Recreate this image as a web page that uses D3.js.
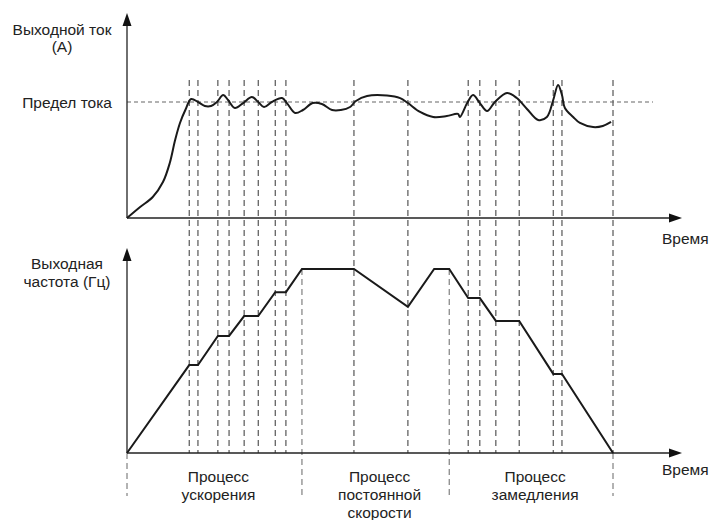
<!DOCTYPE html>
<html>
<head>
<meta charset="utf-8">
<script src="https://cdn.jsdelivr.net/npm/d3@7"></script>
<style>
body { margin: 0; background: #fff; }
text { font-family: "Liberation Sans", Arial, sans-serif; font-size: 15.5px; fill: #222; }
</style>
</head>
<body>
<div id="chart"></div>
<script>
// time in arbitrary units (0 = start, 100 = end of deceleration)
var gridTimes = [12.8, 14.6, 18.7, 21.0, 24.1, 27.0, 30.5, 32.7, 46.7, 57.8, 70.2, 72.6, 75.9, 80.7, 87.7, 89.5, 100];
var phaseBounds = [0, 36.0, 66.3, 100];
var phaseLabels = [["Процесс", "ускорения"], ["Процесс", "постоянной", "скорости"], ["Процесс", "замедления"]];

// output frequency, Hz
var freqTimes  = [0, 12.8, 14.6, 18.7, 21.0, 24.1, 27.0, 30.5, 32.7, 36.0, 46.7, 57.8, 63.2, 66.3, 70.2, 72.6, 75.9, 80.7, 87.7, 89.5, 100];
var freqValues = [0, 23.9, 23.9, 31.8, 31.8, 37.2, 37.2, 43.7, 43.7, 50, 50, 39.7, 50, 50, 42.1, 42.1, 35.9, 35.9, 21.5, 21.5, 0];

// output current, % of the current limit
var currentLimit = 100;
var currentTimes  = [0, 2.7, 5.3, 7.4, 8.8, 9.9, 10.9, 12.0, 13.2, 14.6, 16.0, 17.3, 18.5, 19.8, 20.8, 22.2, 23.9, 25.7, 27.0, 28.2, 29.8, 31.9, 32.9, 34.6, 36.2, 38.2, 40.1, 42.2, 44.0, 45.9, 47.1, 49.4, 53.5, 56.2, 57.8, 60.3, 63.0, 65.8, 68.1, 68.5, 70.0, 71.2, 72.6, 74.1, 75.7, 78.2, 80.2, 82.3, 84.6, 86.4, 87.7, 88.7, 89.5, 90.1, 91.8, 93.2, 95.9, 97.9, 99.6];
var currentValues = [0, 9.5, 18.1, 31.0, 47.4, 67.2, 81.9, 93.1, 102.6, 100, 96.6, 96.6, 100, 106, 101.7, 94.8, 99.1, 104.3, 100, 95.7, 100, 103.4, 99.1, 90.5, 93.1, 99.1, 98.3, 93.1, 93.1, 95.7, 100.9, 105.2, 105.6, 103.4, 99.1, 91.4, 87.1, 87.9, 89.7, 87.1, 99.1, 106, 99.1, 92.2, 100, 107.8, 103.4, 94.0, 84.5, 87.1, 101.7, 114.7, 106, 94.8, 87.1, 81.9, 78.4, 79.3, 82.8];

var W = 711, H = 520;
var x0 = 127, xEnd = 682;
var topAxisY = 218, botAxisY = 453;
var gridTop = 80, phaseBottom = 496;

var x = d3.scaleLinear().domain([0, 100]).range([x0, 613]);
var yI = d3.scaleLinear().domain([0, 100]).range([topAxisY, 102]);
var yF = d3.scaleLinear().domain([0, 50]).range([botAxisY, 269]);

var svg = d3.select("#chart").append("svg")
    .attr("width", W)
    .attr("height", H);

// dashed verticals through both panels
svg.selectAll(".grid")
    .data(gridTimes)
    .enter().append("line")
    .attr("class", "grid")
    .attr("x1", function (d) { return x(d); })
    .attr("x2", function (d) { return x(d); })
    .attr("y1", gridTop)
    .attr("y2", botAxisY)
    .style("stroke", "#333")
    .style("stroke-width", 1)
    .style("stroke-dasharray", "6,4");

// phase boundaries
function freqAt(t) {
    var i = freqTimes.indexOf(t);
    return i >= 0 ? freqValues[i] : 0;
}
svg.selectAll(".phase")
    .data(phaseBounds)
    .enter().append("line")
    .attr("class", "phase")
    .attr("x1", function (d) { return x(d); })
    .attr("x2", function (d) { return x(d); })
    .attr("y1", function (d) { return yF(freqAt(d)); })
    .attr("y2", phaseBottom)
    .style("stroke", "#666")
    .style("stroke-width", 1)
    .style("stroke-dasharray", "6,4");

// current limit
svg.append("line")
    .attr("x1", x0)
    .attr("x2", 653)
    .attr("y1", yI(currentLimit))
    .attr("y2", yI(currentLimit))
    .style("stroke", "#666")
    .style("stroke-width", 1.2)
    .style("stroke-dasharray", "4,3");

// axes
function axis(yAxisTop, yBase) {
    svg.append("line")
        .attr("x1", x0).attr("x2", x0)
        .attr("y1", yBase).attr("y2", yAxisTop + 10)
        .style("stroke", "#222").style("stroke-width", 1.3);
    svg.append("line")
        .attr("x1", x0).attr("x2", xEnd - 10)
        .attr("y1", yBase).attr("y2", yBase)
        .style("stroke", "#222").style("stroke-width", 1.3);
    svg.append("path")
        .attr("d", "M" + x0 + "," + yAxisTop + "L" + (x0 - 4.5) + "," + (yAxisTop + 13) + "L" + (x0 + 4.5) + "," + (yAxisTop + 13) + "Z")
        .style("fill", "#111");
    svg.append("path")
        .attr("d", "M" + xEnd + "," + yBase + "L" + (xEnd - 13) + "," + (yBase - 4.5) + "L" + (xEnd - 13) + "," + (yBase + 4.5) + "Z")
        .style("fill", "#111");
}
axis(13, topAxisY);
axis(248, botAxisY);

// current curve
var currentData = currentTimes.map(function (t, i) { return [t, currentValues[i]]; });
svg.append("path")
    .datum(currentData)
    .attr("d", d3.line()
        .curve(d3.curveCatmullRom.alpha(0.5))
        .x(function (d) { return x(d[0]); })
        .y(function (d) { return yI(d[1]); }))
    .style("fill", "none")
    .style("stroke", "#1a1a1a")
    .style("stroke-width", 2);

// frequency curve
var freqData = freqTimes.map(function (t, i) { return [t, freqValues[i]]; });
svg.append("path")
    .datum(freqData)
    .attr("d", d3.line()
        .x(function (d) { return x(d[0]); })
        .y(function (d) { return yF(d[1]); }))
    .style("fill", "none")
    .style("stroke", "#1a1a1a")
    .style("stroke-width", 2);

// labels
function label(txt, px, py, anchor) {
    svg.append("text")
        .attr("x", px).attr("y", py)
        .style("text-anchor", anchor || "middle")
        .text(txt);
}
label("Выходной ток", 62, 35);
label("(А)", 62, 52);
label("Предел тока", 112, yI(currentLimit) + 6, "end");
label("Выходная", 67, 269);
label("частота (Гц)", 67, 287);
label("Время", 662, 244, "start");
label("Время", 662, 475, "start");

phaseLabels.forEach(function (lines, i) {
    var cx = (x(phaseBounds[i]) + x(phaseBounds[i + 1])) / 2 + 4;
    lines.forEach(function (s, j) {
        label(s, cx, 482 + j * 18);
    });
});
</script>
</body>
</html>
